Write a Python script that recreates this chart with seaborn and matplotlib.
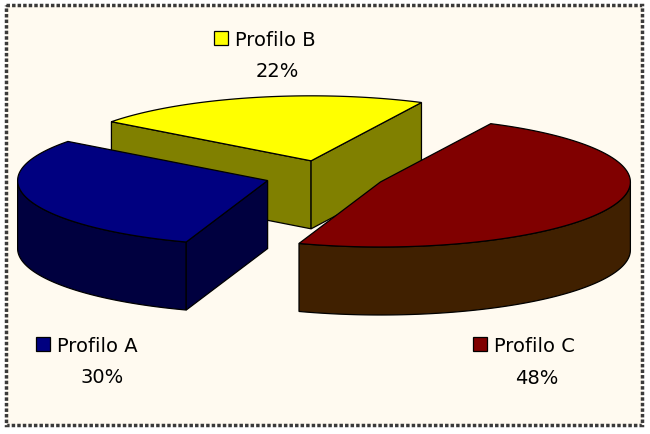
import numpy as np
import matplotlib
matplotlib.use('Agg')
import matplotlib.pyplot as plt
from matplotlib.patches import Polygon, Rectangle
import seaborn as sns

# data
labels = ['Profilo A', 'Profilo B', 'Profilo C']
values = [30, 22, 48]
top_colors = ['#000080', '#FFFF00', '#800000']
side_colors = ['#00003F', '#808000', '#402000']

# layout (pixels, y grows downward)
W, H = 650, 435
CX, CY = 325, 177          # centre of the un-exploded pie
R = 250                    # radius
TILT = 0.26                # vertical squash of the ellipse
DEPTH = 68                 # thickness of the pie
EXPLODE = 60
START_DEG = 251            # first slice starts here, slices go clockwise
label_pos = [(57, 352, 102, 383), (235, 46, 277, 77), (494, 352, 537, 384)]

sns.set_style('white')
plt.rcParams['font.family'] = ['DejaVu Sans']


def pt(cx, cy, theta, r=R, dz=0):
    return (cx + r * np.cos(theta), cy - TILT * r * np.sin(theta) + dz)


def arc(cx, cy, a0, a1, dz=0, n=120):
    th = np.linspace(a0, a1, n)
    return [pt(cx, cy, t, dz=dz) for t in th]


fig = plt.figure(figsize=(W / 100, H / 100), dpi=100)
fig.patch.set_facecolor('white')
ax = fig.add_axes([0, 0, 1, 1])
ax.set_xlim(0, W)
ax.set_ylim(H, 0)
ax.axis('off')

ax.add_patch(Rectangle((6, 6), 636, 420, facecolor='#FFFAF0', edgecolor='#3a3a3a',
                       linewidth=2.5, linestyle=(0, (1, 0.6)), zorder=0))

total = float(sum(values))
spans = [v / total * 360 for v in values]
bounds = START_DEG - np.concatenate([[0], np.cumsum(spans)])

slices = []
for i in range(len(values)):
    a1 = np.radians(bounds[i])       # larger angle
    a0 = np.radians(bounds[i + 1])   # smaller angle
    mid = (a0 + a1) / 2
    cx = CX + EXPLODE * np.cos(mid)
    cy = CY - TILT * EXPLODE * np.sin(mid)
    slices.append((i, a0, a1, mid, cx, cy))

# paint back slices first
order = sorted(slices, key=lambda s: -np.sin(s[3]) * 0 + s[5])
kw = dict(edgecolor='black', linewidth=0.9, joinstyle='miter')
for z, (i, a0, a1, mid, cx, cy) in enumerate(order):
    zb = 2 + z * 3
    # outer rim, front half only
    for lo, hi in [(-np.pi, 0), (np.pi, 2 * np.pi)]:
        s, e = max(a0, lo), min(a1, hi)
        if e > s:
            top = arc(cx, cy, s, e)
            bot = arc(cx, cy, e, s, dz=DEPTH)
            ax.add_patch(Polygon(top + bot, closed=True, facecolor=side_colors[i], zorder=zb, **kw))
    # radial walls facing the viewer
    for ang, visible in [(a1, np.cos(a1) < 0), (a0, np.cos(a0) > 0)]:
        if visible:
            quad = [(cx, cy), pt(cx, cy, ang), pt(cx, cy, ang, dz=DEPTH), (cx, cy + DEPTH)]
            ax.add_patch(Polygon(quad, closed=True, facecolor=side_colors[i], zorder=zb + 1, **kw))
    # top face
    face = [(cx, cy)] + arc(cx, cy, a0, a1)
    ax.add_patch(Polygon(face, closed=True, facecolor=top_colors[i], zorder=zb + 2, **kw))

# labels with colour keys
for i, (tx, ty, px, py) in enumerate(label_pos):
    ax.add_patch(Rectangle((tx - 21, ty - 14), 14, 14, facecolor=top_colors[i],
                           edgecolor='black', linewidth=0.9, zorder=20))
    ax.text(tx, ty, labels[i], fontsize=14, va='baseline', ha='left', color='black', zorder=20)
    ax.text(px, py, f'{values[i] / total * 100:.0f}%', fontsize=14, va='baseline',
            ha='center', color='black', zorder=20)

fig.savefig('out.png', dpi=100, facecolor=fig.get_facecolor())
